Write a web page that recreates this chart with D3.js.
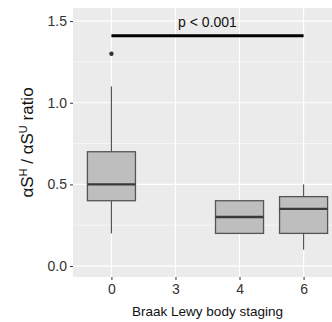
<!DOCTYPE html>
<html><head><meta charset="utf-8">
<script src="https://cdn.jsdelivr.net/npm/d3@7"></script>
<style>body{margin:0;background:#fff}svg{display:block;font-family:"Liberation Sans",Arial,sans-serif}</style>
</head><body><svg id="c" width="332" height="322"></svg>
<script>
const categories = ["0","3","4","6"];
const q1 =      [0.4, null, 0.2, 0.2];
const medians = [0.5, null, 0.3, 0.35];
const q3 =      [0.7, null, 0.4, 0.425];
const whiskLo = [0.2, null, 0.2, 0.1];
const whiskHi = [1.1, null, 0.4, 0.5];
const outliers = [[1.3], [], [], []];
const yTicks = [0.0, 0.5, 1.0, 1.5];
const yMinor = [0.25, 0.75, 1.25];
const sigFrom = "0", sigTo = "6", sigY = 1.41, sigLabel = "p < 0.001";

const svg = d3.select("#c");
const L = 73, R = 342, T = 8, B = 277;
const x = d3.scalePoint().domain(categories).range([L, R]).padding(0.6);
const y = d3.scaleLinear().domain([-0.067, 1.58]).range([B, T]);
const bw = x.step() * 0.75;

svg.append("rect").attr("x", L).attr("y", T).attr("width", R - L).attr("height", B - T).attr("fill", "#EBEBEB");
svg.append("g").selectAll("line").data(yMinor).join("line")
  .attr("x1", L).attr("x2", R).attr("y1", d => y(d)).attr("y2", d => y(d))
  .attr("stroke", "#fff").attr("stroke-width", 0.6);
svg.append("g").selectAll("line").data(yTicks).join("line")
  .attr("x1", L).attr("x2", R).attr("y1", d => y(d)).attr("y2", d => y(d))
  .attr("stroke", "#fff").attr("stroke-width", 1.2);
svg.append("g").selectAll("line").data(categories).join("line")
  .attr("x1", d => x(d)).attr("x2", d => x(d)).attr("y1", T).attr("y2", B)
  .attr("stroke", "#fff").attr("stroke-width", 1.2);

// axes
const ya = svg.append("g").attr("transform", `translate(${L},0)`)
  .call(d3.axisLeft(y).tickValues(yTicks).tickFormat(d3.format(".1f")).tickSize(3).tickPadding(3));
const xa = svg.append("g").attr("transform", `translate(0,${B})`)
  .call(d3.axisBottom(x).tickSize(3).tickPadding(4));
[ya, xa].forEach(g => {
  g.select(".domain").remove();
  g.selectAll(".tick line").attr("stroke", "#333");
  g.selectAll(".tick text").attr("fill", "#333").style("font-size", "14px").style("font-family", "Liberation Sans, Arial, sans-serif");
});

// boxes
const idx = categories.map((c, i) => i).filter(i => q1[i] !== null);
const gb = svg.append("g");
idx.forEach(i => {
  const cx = x(categories[i]);
  gb.append("line").attr("x1", cx).attr("x2", cx).attr("y1", y(whiskHi[i])).attr("y2", y(q3[i])).attr("stroke", "#555").attr("stroke-width", 1.2);
  gb.append("line").attr("x1", cx).attr("x2", cx).attr("y1", y(q1[i])).attr("y2", y(whiskLo[i])).attr("stroke", "#555").attr("stroke-width", 1.2);
  gb.append("rect").attr("x", cx - bw / 2).attr("y", y(q3[i])).attr("width", bw).attr("height", y(q1[i]) - y(q3[i]))
    .attr("fill", "#BEBEBE").attr("stroke", "#555").attr("stroke-width", 1.3);
  gb.append("line").attr("x1", cx - bw / 2).attr("x2", cx + bw / 2).attr("y1", y(medians[i])).attr("y2", y(medians[i]))
    .attr("stroke", "#3a3a3a").attr("stroke-width", 2.4);
  outliers[i].forEach(o => gb.append("circle").attr("cx", cx).attr("cy", y(o)).attr("r", 2.2).attr("fill", "#333"));
});

// significance
svg.append("line").attr("x1", x(sigFrom)).attr("x2", x(sigTo)).attr("y1", y(sigY)).attr("y2", y(sigY))
  .attr("stroke", "#000").attr("stroke-width", 3.2);
svg.append("text").attr("x", (x(sigFrom) + x(sigTo)) / 2).attr("y", y(sigY) - 9).attr("text-anchor", "middle")
  .style("font-size", "14px").attr("fill", "#111").text(sigLabel);

// axis titles
svg.append("text").attr("x", (L + 342) / 2).attr("y", 316).attr("text-anchor", "middle")
  .style("font-size", "13.5px").attr("fill", "#111").text("Braak Lewy body staging");
const yl = svg.append("text").attr("transform", `translate(33,${(T + B) / 2}) rotate(-90)`).attr("text-anchor", "middle")
  .style("font-size", "17px").attr("fill", "#111");
yl.append("tspan").text("αS");
yl.append("tspan").attr("dy", -6).style("font-size", "11px").text("H");
yl.append("tspan").attr("dy", 6).text(" / αS");
yl.append("tspan").attr("dy", -6).style("font-size", "11px").text("U");
yl.append("tspan").attr("dy", 6).text(" ratio");
</script></body></html>
